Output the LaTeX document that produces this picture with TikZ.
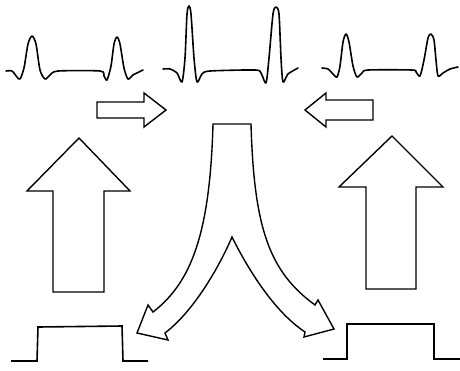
\documentclass[tikz,border=0pt]{standalone}
\begin{document}
\begin{tikzpicture}[x=1pt,y=-1pt,
  outline/.style={draw=black,line width=1.4pt,line join=miter,fill=white},
  trace/.style={draw=black,line width=1.6pt,line join=round,line cap=round},
  pulse/.style={draw=black,line width=1.6pt,line join=miter}]
\useasboundingbox (0,0) rectangle (460,370);

% ECG traces
\draw[trace] plot[smooth,tension=0.45] coordinates {(6,71) (12,71) (17,77) (20,79) (24,68) (28,44) (32,36) (36,44) (40,70) (45,79) (50,75) (58,71) (100,71) (104,76) (107,80) (111,66) (114,44) (117,37) (120,44) (124,68) (128,79) (133,75) (143,70)};
\draw[trace] plot[smooth,tension=0.45] coordinates {(163,69) (170,69) (177,73) (182,82) (185,58) (187,14) (189,6) (191,14) (194,58) (197,82) (202,74) (210,71) (255,70) (261,73) (266,83) (269,58) (273,14) (276,7) (279,14) (281,58) (283,82) (288,74) (298,68)};
\draw[trace] plot[smooth,tension=0.45] coordinates {(322,68) (328,69) (333,74) (337,77) (340,66) (343,42) (346,34) (349,42) (353,66) (357,77) (362,73) (368,70) (412,70) (416,72) (420,76) (424,60) (428,38) (431,34) (434,40) (436,60) (438,76) (443,73) (450,69) (458,67)};

% small horizontal arrows
\draw[outline] (97,102) -- (144,102) -- (144,93) -- (166,110) -- (144,127) -- (144,118) -- (97,118) -- cycle;
\draw[outline] (373,100) -- (326,100) -- (326,93) -- (305,110) -- (326,127) -- (326,120) -- (373,120) -- cycle;

% large upward arrows
\draw[outline] (53,292) -- (53,191) -- (27,191) -- (79,138) -- (130,191) -- (104,191) -- (104,292) -- cycle;
\draw[outline] (366,289) -- (366,187) -- (339,187) -- (392,136) -- (443,187) -- (416,187) -- (416,289) -- cycle;

% forked arrow
\draw[outline] (213,124) -- (251,124)
  .. controls (254,230) and (270,272) .. (315,305)
  -- (318,300) -- (334,329) -- (304,337) -- (305,332)
  .. controls (272,310) and (246,265) .. (232,237)
  .. controls (220,265) and (195,310) .. (165,333)
  -- (168,340) -- (137,333) -- (148,305) -- (153,312)
  .. controls (192,282) and (210,232) .. (213,124) -- cycle;

% rectangular pulses
\draw[pulse] (11,361) -- (37,361) -- (38,327) -- (122,326) -- (123,361) -- (148,361);
\draw[pulse] (323,359) -- (347,359) -- (347,324) -- (434,324) -- (434,359) -- (460,359);
\end{tikzpicture}
\end{document}
